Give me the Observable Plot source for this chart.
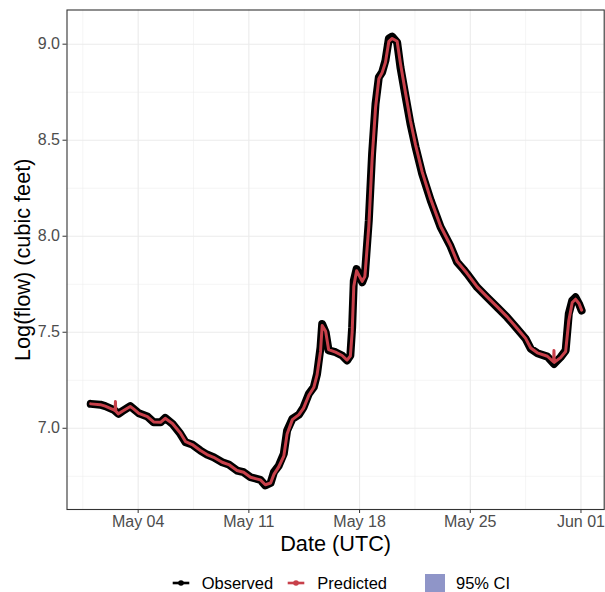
<!DOCTYPE html>
<html><head><meta charset="utf-8">
<script src="https://cdn.jsdelivr.net/npm/d3@7"></script>
<script src="https://cdn.jsdelivr.net/npm/@observablehq/plot@0.6"></script>
<style>
body{margin:0;background:#fff;font-family:"Liberation Sans",Arial,sans-serif;}
#wrap{position:relative;width:605px;height:592px;overflow:hidden;}
#legend{position:absolute;left:0;top:562px;width:605px;height:30px;}
</style></head><body>
<div id="wrap"><div id="chart"></div><div id="legend"></div></div>
<script>
// ---- data ----
const obsTime = ["2023-05-01T00:00","2023-05-01T14:30","2023-05-01T22:00","2023-05-02T11:00","2023-05-02T18:00","2023-05-03T00:00","2023-05-03T12:00","2023-05-03T17:00","2023-05-04T01:00","2023-05-04T14:00","2023-05-04T23:30","2023-05-05T10:00","2023-05-05T17:00","2023-05-06T04:00","2023-05-06T16:00","2023-05-07T00:00","2023-05-07T10:00","2023-05-07T22:30","2023-05-08T08:30","2023-05-08T18:30","2023-05-09T07:30","2023-05-09T17:30","2023-05-10T06:00","2023-05-10T16:00","2023-05-11T02:30","2023-05-11T17:30","2023-05-12T01:00","2023-05-12T09:00","2023-05-12T14:00","2023-05-12T21:30","2023-05-13T05:00","2023-05-13T10:00","2023-05-13T18:00","2023-05-14T04:00","2023-05-14T11:00","2023-05-14T19:00","2023-05-15T02:30","2023-05-15T07:30","2023-05-15T12:45","2023-05-15T15:15","2023-05-15T20:30","2023-05-16T01:00","2023-05-16T11:30","2023-05-16T21:30","2023-05-17T05:00","2023-05-17T10:00","2023-05-17T12:45","2023-05-17T15:15","2023-05-17T19:30","2023-05-18T04:00","2023-05-18T08:00","2023-05-18T14:00","2023-05-18T19:00","2023-05-19T00:15","2023-05-19T05:15","2023-05-19T10:15","2023-05-19T15:15","2023-05-19T20:30","2023-05-20T01:30","2023-05-20T09:00","2023-05-20T14:00","2023-05-20T22:00","2023-05-21T05:15","2023-05-21T13:00","2023-05-21T23:00","2023-05-22T12:00","2023-05-23T03:00","2023-05-23T18:00","2023-05-24T04:00","2023-05-24T14:00","2023-05-24T19:00","2023-05-25T10:30","2023-05-26T01:30","2023-05-26T17:00","2023-05-27T08:00","2023-05-27T23:15","2023-05-28T12:00","2023-05-28T19:45","2023-05-29T05:45","2023-05-29T21:00","2023-05-30T07:00","2023-05-30T17:00","2023-05-31T00:45","2023-05-31T05:30","2023-05-31T10:45","2023-05-31T15:45","2023-05-31T21:00","2023-06-01T01:00"];
const obsValue = [7.127,7.123,7.115,7.096,7.075,7.089,7.115,7.101,7.078,7.061,7.031,7.031,7.054,7.023,6.971,6.927,6.915,6.884,6.863,6.849,6.823,6.811,6.780,6.771,6.745,6.731,6.702,6.715,6.771,6.806,6.867,6.988,7.049,7.071,7.109,7.179,7.214,7.283,7.422,7.543,7.500,7.405,7.396,7.379,7.353,7.379,7.526,7.769,7.829,7.760,7.795,8.082,8.429,8.690,8.828,8.854,8.915,9.030,9.040,9.010,8.880,8.724,8.585,8.464,8.325,8.186,8.047,7.948,7.865,7.826,7.805,7.734,7.682,7.630,7.578,7.518,7.466,7.414,7.391,7.373,7.335,7.370,7.405,7.596,7.665,7.682,7.648,7.613];

const predTime = ["2023-05-01T00:00","2023-05-01T14:30","2023-05-01T22:00","2023-05-02T11:00","2023-05-02T13:00","2023-05-02T13:30","2023-05-02T14:00","2023-05-02T18:00","2023-05-03T00:00","2023-05-03T12:00","2023-05-03T17:00","2023-05-04T01:00","2023-05-04T14:00","2023-05-04T23:30","2023-05-05T10:00","2023-05-05T17:00","2023-05-06T04:00","2023-05-06T16:00","2023-05-07T00:00","2023-05-07T10:00","2023-05-07T22:30","2023-05-08T08:30","2023-05-08T18:30","2023-05-09T07:30","2023-05-09T17:30","2023-05-10T06:00","2023-05-10T16:00","2023-05-11T02:30","2023-05-11T17:30","2023-05-12T01:00","2023-05-12T09:00","2023-05-12T14:00","2023-05-12T21:30","2023-05-13T05:00","2023-05-13T10:00","2023-05-13T18:00","2023-05-14T04:00","2023-05-14T11:00","2023-05-14T19:00","2023-05-15T02:30","2023-05-15T07:30","2023-05-15T12:45","2023-05-15T15:15","2023-05-15T20:30","2023-05-16T01:00","2023-05-16T11:30","2023-05-16T21:30","2023-05-17T05:00","2023-05-17T10:00","2023-05-17T12:45","2023-05-17T15:15","2023-05-17T19:30","2023-05-18T04:00","2023-05-18T08:00","2023-05-18T14:00","2023-05-18T19:00","2023-05-19T00:15","2023-05-19T05:15","2023-05-19T10:15","2023-05-19T15:15","2023-05-19T20:30","2023-05-20T01:30","2023-05-20T09:00","2023-05-20T14:00","2023-05-20T22:00","2023-05-21T05:15","2023-05-21T13:00","2023-05-21T23:00","2023-05-22T12:00","2023-05-23T03:00","2023-05-23T18:00","2023-05-24T04:00","2023-05-24T14:00","2023-05-24T19:00","2023-05-25T10:30","2023-05-26T01:30","2023-05-26T17:00","2023-05-27T08:00","2023-05-27T23:15","2023-05-28T12:00","2023-05-28T19:45","2023-05-29T05:45","2023-05-29T21:00","2023-05-30T06:30","2023-05-30T07:00","2023-05-30T07:30","2023-05-30T17:00","2023-05-31T00:45","2023-05-31T05:30","2023-05-31T10:45","2023-05-31T15:45","2023-05-31T21:00","2023-06-01T01:00"];
const predValue = [7.127,7.123,7.115,7.096,7.091,7.139,7.089,7.075,7.089,7.113,7.101,7.078,7.061,7.033,7.031,7.052,7.025,6.975,6.930,6.915,6.884,6.863,6.849,6.823,6.811,6.780,6.771,6.745,6.731,6.706,6.715,6.760,6.800,6.855,6.970,7.045,7.071,7.105,7.172,7.212,7.278,7.400,7.535,7.505,7.410,7.396,7.379,7.355,7.376,7.500,7.740,7.820,7.765,7.790,8.050,8.400,8.670,8.820,8.852,8.905,9.015,9.030,9.015,8.900,8.740,8.600,8.475,8.335,8.192,8.052,7.952,7.868,7.828,7.807,7.736,7.684,7.632,7.580,7.520,7.468,7.418,7.393,7.375,7.345,7.405,7.343,7.368,7.400,7.560,7.655,7.672,7.650,7.615];

const xMajorTicks = ["2023-05-04T00:00","2023-05-11T00:00","2023-05-18T00:00","2023-05-25T00:00","2023-06-01T00:00"];
const xMinorTicks = ["2023-04-30T12:00","2023-05-07T12:00","2023-05-14T12:00","2023-05-21T12:00","2023-05-28T12:00"];
const yMajorTicks = [7.0, 7.5, 8.0, 8.5, 9.0];
const yMinorTicks = [6.75, 7.25, 7.75, 8.25, 8.75];
const xDomainText = ["2023-04-29T12:00","2023-06-02T11:15"];
const yDomain = [6.577, 9.178];
const legendLabels = ["Observed", "Predicted", "95% CI"];
const xTitle = "Date (UTC)";
const yTitle = "Log(flow) (cubic feet)";

// ---- build ----
const parse = d3.utcParse("%Y-%m-%dT%H:%M");
const observed = obsTime.map((t, i) => ({date: parse(t), value: obsValue[i]}));
const predicted = predTime.map((t, i) => ({date: parse(t), value: predValue[i]}));
const xMajor = xMajorTicks.map(parse);
const xMinor = xMinorTicks.map(parse);

const colObs = "#000000", colPred = "#C8404A", colCI = "#8F95C8";
const gridCol = "#EBEBEB";

const chart = Plot.plot({
  width: 605,
  height: 562,
  marginLeft: 66.5,
  marginRight: 1.3,
  marginTop: 9.5,
  marginBottom: 53,
  style: {fontFamily: '"Liberation Sans", Arial, sans-serif', fontSize: "16px", background: "#fff", color: "#000"},
  x: {type: "utc", domain: xDomainText.map(parse)},
  y: {domain: yDomain},
  marks: [
    Plot.ruleX(xMinor, {stroke: gridCol, strokeWidth: 0.55}),
    Plot.ruleY(yMinorTicks, {stroke: gridCol, strokeWidth: 0.55}),
    Plot.ruleX(xMajor, {stroke: gridCol, strokeWidth: 1.1}),
    Plot.ruleY(yMajorTicks, {stroke: gridCol, strokeWidth: 1.1}),
    Plot.line(observed, {x: "date", y: "value", stroke: colObs, strokeWidth: 8, strokeLinejoin: "round", strokeLinecap: "round"}),
    Plot.line(predicted, {x: "date", y: "value", stroke: colPred, strokeWidth: 3, strokeLinejoin: "round", strokeLinecap: "round"}),
    Plot.frame({stroke: "#333333", strokeWidth: 1.1}),
    Plot.axisX(xMajor, {tickSize: 4, tickPadding: 2, tickFormat: d3.utcFormat("%b %d"), fontSize: 16, stroke: "#333333", fill: "#4D4D4D", label: null}),
    Plot.axisY(yMajorTicks, {tickSize: 4, tickPadding: 3, tickFormat: d3.format(".1f"), fontSize: 16, stroke: "#333333", fill: "#4D4D4D", label: null}),
    Plot.text([xTitle], {text: d => d, frameAnchor: "bottom", lineAnchor: "middle", textAnchor: "middle", dy: 34.5, fontSize: 21.7, fill: "#000"}),
    Plot.text([yTitle], {text: d => d, frameAnchor: "left", lineAnchor: "middle", textAnchor: "middle", rotate: -90, dx: -44, fontSize: 21.7, fill: "#000"})
  ]
});
document.getElementById("chart").appendChild(chart);

// ---- legend (below the plot) ----
const ns = "http://www.w3.org/2000/svg";
const lg = document.createElementNS(ns, "svg");
lg.setAttribute("width", 605); lg.setAttribute("height", 30);
lg.style.fontFamily = '"Liberation Sans", Arial, sans-serif';
const cy = 21;
function el(tag, attrs, parent) {
  const e = document.createElementNS(ns, tag);
  for (const k in attrs) e.setAttribute(k, attrs[k]);
  (parent || lg).appendChild(e);
  return e;
}
const items = [
  {label: legendLabels[0], kind: "line", color: colObs, kx: 172.7, tx: 201.7},
  {label: legendLabels[1], kind: "line", color: colPred, kx: 287.7, tx: 317.3},
  {label: legendLabels[2], kind: "rect", color: colCI, kx: 425, tx: 456}
];
for (const it of items) {
  if (it.kind === "line") {
    el("line", {x1: it.kx, x2: it.kx + 16.6, y1: cy, y2: cy, stroke: it.color, "stroke-width": 2.6});
    el("circle", {cx: it.kx + 8.3, cy: cy, r: 2.8, fill: it.color});
  } else {
    el("rect", {x: it.kx, y: 12, width: 20, height: 18, fill: it.color});
  }
  const t = el("text", {x: it.tx, y: cy, "dominant-baseline": "central", "font-size": 16.5, fill: "#000"});
  t.textContent = it.label;
}
document.getElementById("legend").appendChild(lg);
</script>
</body></html>
